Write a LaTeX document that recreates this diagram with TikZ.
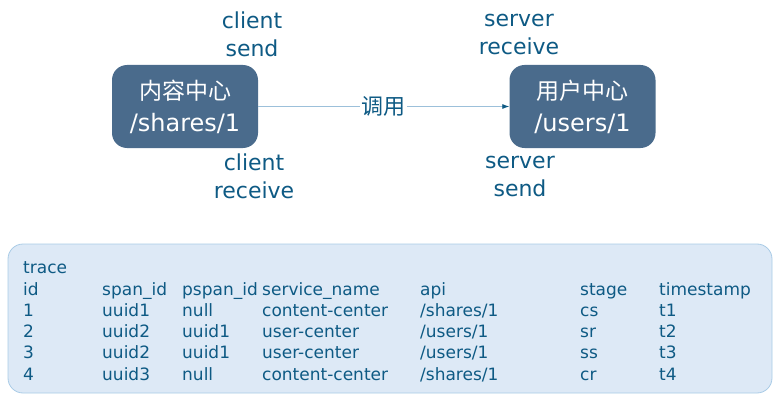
\documentclass[tikz,border=0pt]{standalone}
\usepackage{fontspec}
\setmainfont{DejaVu Sans}
\newfontfamily\cjk{Noto Sans CJK SC}
\usetikzlibrary{arrows.meta}
\definecolor{boxfill}{HTML}{4A6B8C}
\definecolor{txt}{HTML}{0E5A84}
\definecolor{linec}{HTML}{9CC0DA}
\definecolor{tabfill}{HTML}{DDE9F6}
\definecolor{tabborder}{HTML}{A9CBE6}
\tikzset{
  svc/.style={fill=boxfill, draw=none, rounded corners=15pt, minimum width=146pt, minimum height=83pt,
    text=white, align=center, font=\fontsize{24}{32}\selectfont, inner sep=0pt},
  evlabel/.style={text=txt, align=center, font=\fontsize{22}{28}\selectfont, inner sep=0pt},
  cell/.style={text=txt, anchor=base west, inner sep=0pt, font=\fontsize{17}{19}\selectfont},
  conn/.style={draw=linec, line width=0.8pt, -{Latex[length=7pt,width=5pt,color=txt]}},
}
\begin{document}
\begin{tikzpicture}[x=1pt,y=-1pt]
\useasboundingbox (0,0) rectangle (780,404);
\node[svc] (a) at (185,106.5) {{\cjk\fontsize{23}{32}\selectfont 内容中心}\\/shares/1};
\node[svc] (b) at (582.5,106.5) {{\cjk\fontsize{23}{32}\selectfont 用户中心}\\/users/1};
\draw[conn] (a.east) -- node[fill=white, inner sep=1.5pt, text=txt, font=\fontsize{22}{24}\selectfont\cjk] (call) {调用} (b.west);
\node[evlabel] (cs) at (252,34) {client\\send};
\node[evlabel] (cr) at (254,176) {client\\receive};
\node[evlabel] (sr) at (519,34) {server\\receive};
\node[evlabel] (ss) at (520,176) {server\\send};
\node[fill=tabfill, draw=tabborder, line width=0.8pt, rounded corners=15pt, minimum width=764pt, minimum height=149pt, inner sep=0pt] (tab) at (390,318.5) {};
\node[cell] (trace) at (23,273) {trace};
\foreach \y/\r [count=\i] in {
  295/{id,span\_id,pspan\_id,service\_name,api,stage,timestamp},
  316/{1,uuid1,null,content-center,/shares/1,cs,t1},
  337/{2,uuid2,uuid1,user-center,/users/1,sr,t2},
  358/{3,uuid2,uuid1,user-center,/users/1,ss,t3},
  380/{4,uuid3,null,content-center,/shares/1,cr,t4}} {
  \foreach \t [count=\j] in \r {
    \pgfmathparse{{23,102,182,262,420,580,659}[\j-1]}
    \node[cell] (c\i-\j) at (\pgfmathresult,\y) {\t};
  }
}
\end{tikzpicture}
\end{document}
